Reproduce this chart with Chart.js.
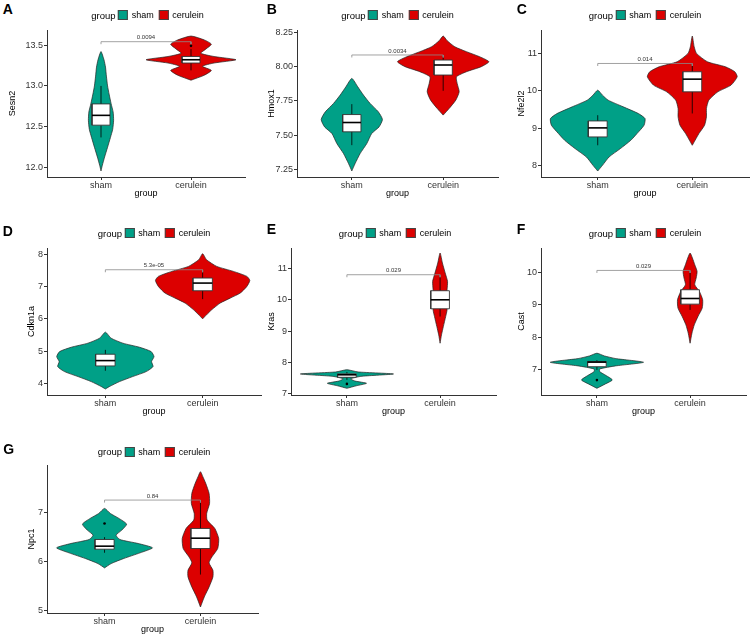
<!DOCTYPE html>
<html>
<head>
<meta charset="utf-8">
<script src="https://cdn.jsdelivr.net/npm/chart.js@4.4.1/dist/chart.umd.min.js"></script>
<style>
html,body{margin:0;padding:0;background:#fff;}
body{width:750px;height:635px;position:relative;overflow:hidden;font-family:"Liberation Sans",Arial,sans-serif;color:#000;}
canvas{position:absolute;}
.letter{position:absolute;font-weight:bold;font-size:14px;line-height:14px;}
.legend{position:absolute;display:flex;align-items:center;height:12px;font-size:9px;white-space:nowrap;transform:translateX(-50%);}
.legend .box{display:inline-block;box-sizing:border-box;width:10px;height:10px;border:1px solid #444;}
</style>
</head>
<body>
<script>
// ---------- data ----------
const categories = ['sham', 'cerulein'];
const groupColors = ['#00A087', '#DC0000'];
const genes = ['Sesn2', 'Hmox1', 'Nfe2l2', 'Cdkn1a', 'Kras', 'Cast', 'Npc1'];
const panelLetters = ['A', 'B', 'C', 'D', 'E', 'F', 'G'];
const pValues = ['0.0094', '0.0034', '0.014', '5.3e-05', '0.029', '0.029', '0.84'];
const bracketY = [13.541, 8.085, 10.73, 7.532, 10.788, 10.05, 7.26];

// y axis ranges and tick labels
const yRanges = [[11.886, 13.684], [7.196, 8.267], [7.688, 11.627], [3.636, 8.208], [6.968, 11.637], [6.233, 10.737], [4.945, 7.979]];
const yTicksA = ['12.0', '12.5', '13.0', '13.5'];
const yTicksB = ['7.25', '7.50', '7.75', '8.00', '8.25'];
const yTicksC = ['8', '9', '10', '11'];
const yTicksD = ['4', '5', '6', '7', '8'];
const yTicksE = ['7', '8', '9', '10', '11'];
const yTicksF = ['7', '8', '9', '10'];
const yTicksG = ['5', '6', '7'];

// violin outlines: value levels and half widths (category units)
const sesn2ShamY = [11.96, 12.03, 12.13, 12.25, 12.37, 12.47, 12.58, 12.68, 12.78, 12.9, 13.0, 13.12, 13.23, 13.32, 13.42];
const sesn2ShamW = [0, 0.015, 0.04, 0.073, 0.105, 0.13, 0.14, 0.135, 0.113, 0.09, 0.073, 0.06, 0.05, 0.033, 0];
const sesn2CerY = [13.07, 13.13, 13.19, 13.24, 13.28, 13.32, 13.36, 13.40, 13.45, 13.51, 13.56, 13.61];
const sesn2CerW = [0, 0.146, 0.226, 0.127, 0.255, 0.5, 0.255, 0.11, 0.164, 0.226, 0.153, 0];

const hmox1ShamY = [7.24, 7.294, 7.367, 7.44, 7.513, 7.561, 7.615, 7.671, 7.732, 7.793, 7.853, 7.914];
const hmox1ShamW = [0, 0.036, 0.091, 0.164, 0.218, 0.298, 0.335, 0.29, 0.2, 0.127, 0.065, 0];
const hmox1CerY = [7.647, 7.695, 7.756, 7.817, 7.878, 7.926, 7.963, 8.0, 8.036, 8.072, 8.109, 8.145, 8.189, 8.223];
const hmox1CerW = [0, 0.065, 0.138, 0.175, 0.153, 0.145, 0.255, 0.418, 0.5, 0.4, 0.255, 0.127, 0.044, 0];

const nfe2l2ShamY = [7.848, 8.0, 8.225, 8.45, 8.672, 8.851, 9.075, 9.254, 9.388, 9.568, 9.747, 9.881, 10.015];
const nfe2l2ShamW = [0, 0.05, 0.12, 0.24, 0.35, 0.415, 0.49, 0.5, 0.43, 0.27, 0.11, 0.05, 0];
const nfe2l2CerY = [8.538, 8.672, 8.851, 9.075, 9.30, 9.523, 9.747, 9.97, 10.15, 10.373, 10.508, 10.642, 10.776, 11.0, 11.179, 11.466];
const nfe2l2CerW = [0, 0.03, 0.07, 0.13, 0.15, 0.15, 0.175, 0.27, 0.41, 0.475, 0.45, 0.35, 0.16, 0.045, 0.02, 0];

const cdkn1aShamY = [3.823, 3.896, 4.052, 4.208, 4.364, 4.519, 4.675, 4.83, 4.987, 5.122, 5.247, 5.403, 5.59];
const cdkn1aShamW = [0, 0.04, 0.145, 0.28, 0.42, 0.49, 0.475, 0.5, 0.47, 0.35, 0.18, 0.059, 0];
const cdkn1aCerY = [6.005, 6.13, 6.286, 6.494, 6.649, 6.805, 7.013, 7.2, 7.325, 7.48, 7.636, 7.844, 8.031];
const cdkn1aCerW = [0, 0.04, 0.093, 0.18, 0.283, 0.386, 0.455, 0.485, 0.455, 0.317, 0.145, 0.04, 0];

const krasShamY = [7.18, 7.26, 7.34, 7.41, 7.48, 7.56, 7.636, 7.70, 7.77];
const krasShamW = [0, 0.1, 0.21, 0.09, 0.04, 0.15, 0.5, 0.12, 0];
const krasCerY = [8.613, 8.878, 9.143, 9.46, 9.674, 9.992, 10.31, 10.576, 10.84, 11.16, 11.477];
const krasCerW = [0, 0.015, 0.035, 0.06, 0.075, 0.07, 0.075, 0.08, 0.055, 0.025, 0];

const castShamY = [6.438, 6.571, 6.694, 6.827, 6.95, 7.03, 7.124, 7.236, 7.35, 7.43, 7.513];
const castShamW = [0, 0.09, 0.165, 0.1, 0.03, 0.03, 0.2, 0.5, 0.2, 0.08, 0];
const castCerY = [7.82, 8.127, 8.383, 8.639, 8.895, 9.15, 9.406, 9.611, 9.816, 10.02, 10.225, 10.43, 10.583];
const castCerW = [0, 0.02, 0.045, 0.085, 0.13, 0.135, 0.1, 0.05, 0.065, 0.075, 0.05, 0.025, 0];

const npc1ShamY = [5.87, 5.959, 6.062, 6.178, 6.281, 6.37, 6.452, 6.541, 6.644, 6.767, 6.884, 6.986, 7.089];
const npc1ShamW = [0, 0.07, 0.2, 0.37, 0.5, 0.35, 0.16, 0.12, 0.18, 0.23, 0.15, 0.06, 0];
const npc1CerY = [5.068, 5.274, 5.479, 5.685, 5.822, 5.973, 6.096, 6.267, 6.473, 6.678, 6.849, 6.986, 7.192, 7.397, 7.603, 7.74, 7.842];
const npc1CerW = [0, 0.04, 0.09, 0.13, 0.13, 0.09, 0.12, 0.18, 0.19, 0.15, 0.07, 0.065, 0.095, 0.09, 0.055, 0.025, 0];

// boxplot stats per group: [lower whisker, Q1, median, Q3, upper whisker]
const sesn2Box = [[12.37, 12.52, 12.64, 12.78, 13.0], [13.19, 13.28, 13.32, 13.36, 13.45]];
const hmox1Box = [[7.428, 7.525, 7.593, 7.651, 7.727], [7.824, 7.939, 8.012, 8.048, 8.085]];
const nfe2l2Box = [[8.538, 8.762, 9.004, 9.19, 9.344], [9.39, 9.97, 10.31, 10.508, 10.72]];
const cdkn1aBox = [[4.39, 4.54, 4.706, 4.904, 5.04], [6.618, 6.878, 7.117, 7.273, 7.52]];
const krasBox = [[7.45, 7.53, 7.61, 7.64, 7.70], [9.46, 9.706, 9.992, 10.28, 10.78]];
const castBox = [[7.0, 7.10, 7.24, 7.26, 7.30], [8.84, 9.017, 9.19, 9.458, 10.05]];
const npc1Box = [[6.18, 6.253, 6.315, 6.452, 6.5], [5.733, 6.267, 6.479, 6.678, 7.26]];

// outliers per group
const sesn2Out = [[], [13.49]];
const hmox1Out = [[], []];
const nfe2l2Out = [[], []];
const cdkn1aOut = [[], []];
const krasOut = [[7.32], []];
const castOut = [[6.69], []];
const npc1Out = [[6.78], []];

// ---------- layout (pixel frames of each plot area) ----------
const frames = [
  {l: 47, t: 30, r: 248, b: 177, titleOff: 34, letter: [2.7, 3.7], legendY: 15},
  {l: 297, t: 30, r: 498, b: 177, titleOff: 25, letter: [266.7, 3.7], legendY: 15},
  {l: 541, t: 30, r: 749, b: 177, titleOff: 19, letter: [516.7, 3.7], legendY: 15},
  {l: 47, t: 248, r: 261, b: 395, titleOff: 15.6, letter: [2.7, 226], legendY: 233.3},
  {l: 291, t: 248, r: 499, b: 395, titleOff: 19, letter: [266.7, 223.3], legendY: 233.3},
  {l: 541, t: 248, r: 749, b: 395, titleOff: 19, letter: [516.7, 223.3], legendY: 233.3},
  {l: 47, t: 465, r: 261, b: 613, titleOff: 15.6, letter: [3.3, 443.3], legendY: 451.7}
];

const yTickSets = [yTicksA, yTicksB, yTicksC, yTicksD, yTicksE, yTicksF, yTicksG];
const violinYs = [[sesn2ShamY, sesn2CerY], [hmox1ShamY, hmox1CerY], [nfe2l2ShamY, nfe2l2CerY], [cdkn1aShamY, cdkn1aCerY], [krasShamY, krasCerY], [castShamY, castCerY], [npc1ShamY, npc1CerY]];
const violinWs = [[sesn2ShamW, sesn2CerW], [hmox1ShamW, hmox1CerW], [nfe2l2ShamW, nfe2l2CerW], [cdkn1aShamW, cdkn1aCerW], [krasShamW, krasCerW], [castShamW, castCerW], [npc1ShamW, npc1CerW]];
const boxSets = [sesn2Box, hmox1Box, nfe2l2Box, cdkn1aBox, krasBox, castBox, npc1Box];
const outSets = [sesn2Out, hmox1Out, nfe2l2Out, cdkn1aOut, krasOut, castOut, npc1Out];

const FONT = '"Liberation Sans", Arial, sans-serif';
const BOX_HW = 0.1;

function violinPoints(c, ys, ws) {
  const pts = [];
  for (let k = 0; k < ys.length; k++) pts.push({x: c + ws[k], y: ys[k]});
  for (let k = ys.length - 2; k >= 0; k--) pts.push({x: c - ws[k], y: ys[k]});
  return pts;
}

function makePanel(i) {
  const f = frames[i];
  const yW = 47, padTop = 10, xH = 25, padBottom = 2, padRight = 1;
  const plotW = f.r - f.l, plotH = f.b - f.t;
  const cw = yW + plotW + padRight, ch = padTop + plotH + xH + padBottom;
  const canvas = document.createElement('canvas');
  canvas.width = cw; canvas.height = ch;
  canvas.style.left = (f.l - yW) + 'px';
  canvas.style.top = (f.t - padTop) + 'px';
  canvas.style.width = cw + 'px';
  canvas.style.height = ch + 'px';
  document.body.appendChild(canvas);

  const [ymin, ymax] = yRanges[i];
  const yTicks = yTickSets[i];
  const tip = 2.5 * (ymax - ymin) / plotH;
  const datasets = [];

  for (let g = 0; g < 2; g++) {
    const c = g + 1;
    datasets.push({
      data: violinPoints(c, violinYs[i][g], violinWs[i][g]),
      showLine: true, fill: 'shape', tension: 0.2,
      backgroundColor: groupColors[g], borderColor: '#222', borderWidth: 0.7,
      pointRadius: 0, order: 6
    });
    const [lo, q1, med, q3, hi] = boxSets[i][g];
    datasets.push({
      data: [{x: c, y: lo}, {x: c, y: hi}],
      showLine: true, borderColor: '#000', borderWidth: 0.8, pointRadius: 0, order: 5
    });
    datasets.push({
      data: [{x: c - BOX_HW, y: q1}, {x: c + BOX_HW, y: q1}, {x: c + BOX_HW, y: q3}, {x: c - BOX_HW, y: q3}, {x: c - BOX_HW, y: q1}],
      showLine: true, fill: 'shape', tension: 0,
      backgroundColor: '#ffffff', borderColor: '#333', borderWidth: 0.9, pointRadius: 0, order: 4
    });
    datasets.push({
      data: [{x: c - BOX_HW, y: med}, {x: c + BOX_HW, y: med}],
      showLine: true, borderColor: '#000', borderWidth: 1.6, pointRadius: 0, order: 3
    });
    if (outSets[i][g].length) {
      datasets.push({
        data: outSets[i][g].map(v => ({x: c, y: v})),
        showLine: false, pointRadius: 1.3, pointBackgroundColor: '#000', pointBorderWidth: 0, order: 2
      });
    }
  }
  const by = bracketY[i];
  datasets.push({
    data: [{x: 1, y: by - tip}, {x: 1, y: by}, {x: 2, y: by}, {x: 2, y: by - tip}],
    showLine: true, borderColor: '#8a8a8a', borderWidth: 0.8, pointRadius: 0, tension: 0, order: 1
  });

  const pLabel = {
    id: 'pLabel' + i,
    afterDatasetsDraw(chart) {
      const {ctx, scales} = chart;
      ctx.save();
      ctx.font = '6px ' + FONT;
      ctx.fillStyle = '#333';
      ctx.textAlign = 'center';
      ctx.textBaseline = 'bottom';
      ctx.fillText(pValues[i], scales.x.getPixelForValue(1.5), scales.y.getPixelForValue(by) - 1);
      ctx.restore();
    }
  };

  new Chart(canvas, {
    type: 'scatter',
    data: {datasets},
    options: {
      responsive: false, animation: false, devicePixelRatio: 1,
      layout: {padding: {left: 0, top: padTop, right: padRight, bottom: padBottom}},
      plugins: {legend: {display: false}, tooltip: {enabled: false}},
      scales: {
        x: {
          type: 'linear', min: 0.4, max: 2.6,
          afterBuildTicks: s => { s.ticks = categories.map((_, k) => ({value: k + 1})); },
          afterFit: s => { s.height = xH; },
          ticks: {callback: (v, idx) => categories[idx], font: {size: 9, family: FONT}, color: '#333', padding: 0, maxRotation: 0, autoSkip: false},
          grid: {display: true, drawOnChartArea: false, drawTicks: true, tickLength: 3, color: '#333'},
          border: {display: true, color: '#333', width: 1},
          title: {display: true, text: 'group', font: {size: 9, family: FONT}, color: '#000', padding: {top: 0, bottom: 3}}
        },
        y: {
          type: 'linear', min: ymin, max: ymax,
          afterBuildTicks: s => { s.ticks = yTicks.map(t => ({value: parseFloat(t)})); },
          afterFit: s => { s.width = yW; },
          ticks: {callback: (v, idx) => yTicks[idx], font: {size: 9, family: FONT}, color: '#333', padding: 1, autoSkip: false},
          grid: {display: true, drawOnChartArea: false, drawTicks: true, tickLength: 3, color: '#333'},
          border: {display: true, color: '#333', width: 1},
          title: {display: true, text: genes[i], font: {size: 9, family: FONT}, color: '#000', padding: {top: yW - f.titleOff - 5.4, bottom: 0}}
        }
      }
    },
    plugins: [pLabel]
  });

  // panel letter
  const L = document.createElement('div');
  L.className = 'letter';
  L.textContent = panelLetters[i];
  L.style.left = f.letter[0] + 'px';
  L.style.top = (f.letter[1] - 1.8) + 'px';
  document.body.appendChild(L);

  // legend
  const lg = document.createElement('div');
  lg.className = 'legend';
  lg.style.left = ((f.l + f.r) / 2) + 'px';
  lg.style.top = (f.legendY - 6) + 'px';
  const t = document.createElement('span');
  t.textContent = 'group'; t.style.marginRight = '2.5px'; t.style.fontSize = '9.5px';
  lg.appendChild(t);
  categories.forEach((name, g) => {
    const b = document.createElement('span');
    b.className = 'box'; b.style.background = groupColors[g];
    lg.appendChild(b);
    const s = document.createElement('span');
    s.textContent = name;
    s.style.marginLeft = '3.5px';
    if (g < categories.length - 1) s.style.marginRight = '5px';
    lg.appendChild(s);
  });
  document.body.appendChild(lg);
}

for (let i = 0; i < genes.length; i++) makePanel(i);
</script>
</body>
</html>
